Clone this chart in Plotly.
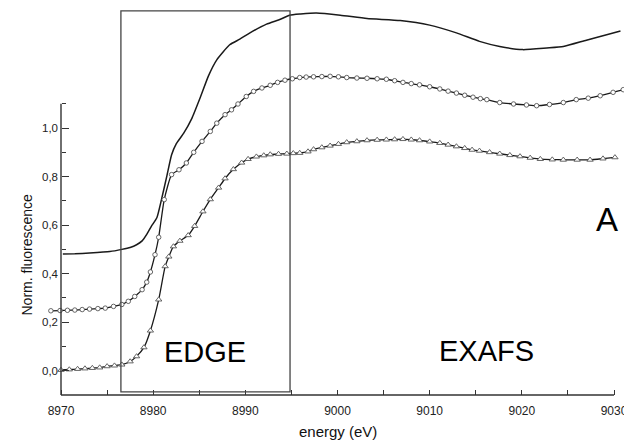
import plotly.graph_objects as go

# ---------------- data ----------------
top_energy = [8970.2, 8971.5, 8973.1, 8975.3, 8976.6, 8977.5, 8978.2, 8978.8, 8979.3, 8979.8,
              8980.4, 8980.9, 8981.5, 8982.0, 8982.5, 8983.3, 8984.2, 8985.1, 8986.0, 8986.9,
              8988.3, 8989.4, 8990.5, 8992.3, 8993.8, 8994.8, 8996.0, 8997.7, 9000.3, 9003.2,
              9006.8, 9010.0, 9012.9, 9015.4, 9017.6, 9020.1, 9022.7, 9024.5, 9027.0, 9029.2,
              9030.7]
top_fluor = [0.481, 0.482, 0.485, 0.491, 0.500, 0.508, 0.519, 0.535, 0.562, 0.595,
             0.630, 0.705, 0.805, 0.890, 0.935, 0.978, 1.040, 1.125, 1.215, 1.281,
             1.343, 1.366, 1.392, 1.428, 1.448, 1.465, 1.470, 1.474, 1.465, 1.451,
             1.443, 1.424, 1.392, 1.357, 1.336, 1.323, 1.330, 1.336, 1.362, 1.384,
             1.400]

mid_energy = [8968.9, 8969.9, 8970.7, 8971.5, 8972.3, 8973.1, 8974.0, 8974.8, 8975.7, 8976.6,
              8977.3, 8978.0, 8978.8, 8979.3, 8979.7, 8980.2, 8980.6, 8981.2, 8982.0, 8982.8,
              8983.6, 8984.4, 8985.3, 8986.2, 8986.9, 8987.8, 8988.5, 8989.2, 8990.1, 8990.9,
              8991.8, 8992.7, 8993.5, 8994.3, 8995.1, 8995.9, 8996.6, 8997.4, 8998.3, 8999.2,
              9000.1, 9001.0, 9002.1, 9003.2, 9004.3, 9005.3, 9006.2, 9007.1, 9008.0, 9008.9,
              9010.0, 9011.1, 9012.0, 9012.9, 9013.8, 9014.7, 9015.5, 9016.2, 9017.6, 9019.1,
              9020.5, 9021.6, 9023.0, 9024.5, 9025.9, 9027.2, 9028.5, 9029.9, 9031.0, 9031.9]
mid_fluor = [0.247, 0.248, 0.249, 0.250, 0.252, 0.254, 0.256, 0.258, 0.265, 0.273,
             0.286, 0.306, 0.334, 0.365, 0.407, 0.478, 0.550, 0.705, 0.808, 0.828,
             0.856, 0.900, 0.945, 0.986, 1.020, 1.055, 1.075, 1.099, 1.130, 1.151,
             1.165, 1.176, 1.188, 1.197, 1.203, 1.208, 1.210, 1.211, 1.212, 1.213,
             1.211, 1.208, 1.206, 1.205, 1.203, 1.201, 1.195, 1.188, 1.183, 1.178,
             1.170, 1.161, 1.152, 1.144, 1.135, 1.127, 1.121, 1.117, 1.105, 1.099,
             1.095, 1.092, 1.097, 1.105, 1.117, 1.123, 1.133, 1.147, 1.158, 1.165]

low_energy = [8970.0, 8970.9, 8971.8, 8972.6, 8973.4, 8974.2, 8975.0, 8975.8, 8976.6, 8977.5,
              8978.2, 8979.0, 8979.7, 8980.6, 8981.3, 8981.7, 8982.2, 8982.9, 8983.8, 8984.5,
              8985.4, 8986.2, 8987.1, 8987.8, 8988.7, 8989.6, 8990.3, 8991.2, 8992.0, 8992.7,
              8993.6, 8994.5, 8995.2, 8995.9, 8996.8, 8997.4, 8998.3, 8999.2, 9000.1, 9001.0,
              9002.1, 9003.2, 9004.3, 9005.3, 9006.2, 9007.1, 9008.0, 9008.9, 9010.0, 9011.1,
              9012.0, 9012.9, 9013.8, 9014.6, 9015.4, 9016.5, 9017.6, 9018.7, 9019.8, 9020.9,
              9022.0, 9023.3, 9024.5, 9026.0, 9027.4, 9028.8, 9030.1]
low_fluor = [0.003, 0.005, 0.007, 0.009, 0.011, 0.013, 0.018, 0.021, 0.025, 0.038,
             0.059, 0.096, 0.165, 0.293, 0.430, 0.470, 0.512, 0.535, 0.558, 0.596,
             0.656, 0.706, 0.754, 0.792, 0.830, 0.857, 0.872, 0.882, 0.887, 0.891,
             0.893, 0.894, 0.896, 0.897, 0.903, 0.912, 0.920, 0.927, 0.934, 0.941,
             0.945, 0.949, 0.951, 0.952, 0.953, 0.954, 0.952, 0.949, 0.944, 0.938,
             0.931, 0.924, 0.917, 0.910, 0.906, 0.900, 0.894, 0.888, 0.883, 0.877,
             0.872, 0.870, 0.869, 0.869, 0.869, 0.874, 0.879]

x_tickvals = [8970, 8980, 8990, 9000, 9010, 9020, 9030]
x_ticktext = ["8970", "8980", "8990", "9000", "9010", "9020", "9030"]
x_minorvals = [8975, 8985, 8995, 9005, 9015, 9025]
y_tickvals = [0.0, 0.2, 0.4, 0.6, 0.8, 1.0]
y_ticktext = ["0,0", "0,2", "0,4", "0,6", "0,8", "1,0"]
y_minorvals = [0.1, 0.3, 0.5, 0.7, 0.9, 1.1]
y_axis_span = [-0.1, 1.1]
x_axis_span = [8970, 9030]
edge_region = [8976.5, 8994.85]
edge_box_y = [-0.087, 1.483]

# ---------------- layout geometry ----------------
# The page body has an 8px margin, so the figure is laid out in page coords minus 8.
OFF = 8
W, H = 624, 432
ML, MR, MT, MB = 40, 0, 0, 45
X_RANGE = [8968.59, 9031.95]
Y_RANGE = [-0.1, 1.4945]
FONT = "Liberation Sans, Arial, sans-serif"
LINE = "#1a1a1a"
AX = "#333333"

fig = go.Figure()
fig.add_trace(go.Scatter(x=top_energy, y=top_fluor, mode="lines",
                         line=dict(color=LINE, width=1.5, shape="spline", smoothing=0.5),
                         showlegend=False))
fig.add_trace(go.Scatter(x=mid_energy, y=mid_fluor, mode="lines+markers",
                         line=dict(color=LINE, width=1.3, shape="spline", smoothing=0.5),
                         marker=dict(symbol="circle", size=4.5, color="white",
                                     line=dict(color="#555555", width=0.9)),
                         showlegend=False))
fig.add_trace(go.Scatter(x=low_energy, y=low_fluor, mode="lines+markers",
                         line=dict(color=LINE, width=1.3, shape="spline", smoothing=0.5),
                         marker=dict(symbol="triangle-up", size=5.5, color="white",
                                     line=dict(color="#555555", width=0.9)),
                         showlegend=False))

# axis lines (only over the labelled span, as in the reference)
fig.add_shape(type="line", xref="x", yref="paper", x0=x_axis_span[0], x1=x_axis_span[1],
              y0=0, y1=0, line=dict(color=AX, width=1.4))
fig.add_shape(type="line", xref="x", yref="y", x0=x_axis_span[0], x1=x_axis_span[0],
              y0=y_axis_span[0], y1=y_axis_span[1], line=dict(color=AX, width=1.4))
# EDGE box
fig.add_shape(type="rect", xref="x", yref="y", x0=edge_region[0], x1=edge_region[1],
              y0=edge_box_y[0], y1=edge_box_y[1], line=dict(color="#444444", width=1.3))

yaxis_pos = (x_axis_span[0] - X_RANGE[0]) / (X_RANGE[1] - X_RANGE[0])

fig.update_layout(
    width=W, height=H, margin=dict(l=ML, r=MR, t=MT, b=MB, pad=0),
    paper_bgcolor="white", plot_bgcolor="white",
    font=dict(family=FONT, color="#222222"),
    xaxis=dict(range=X_RANGE, showgrid=False, zeroline=False, showline=False,
               tickmode="array", tickvals=x_tickvals, ticktext=x_ticktext,
               ticks="inside", ticklen=5, tickwidth=1.2, tickcolor=AX,
               tickfont=dict(size=12, family=FONT, color="#222222"),
               ticklabelstandoff=7,
               minor=dict(tickmode="array", tickvals=x_minorvals, ticks="inside",
                          ticklen=5, tickwidth=1.2, tickcolor=AX, showgrid=False)),
    yaxis=dict(range=Y_RANGE, showgrid=False, zeroline=False, showline=False,
               anchor="free", position=yaxis_pos,
               tickmode="array", tickvals=y_tickvals, ticktext=y_ticktext,
               ticks="inside", ticklen=7, tickwidth=1.2, tickcolor=AX,
               tickfont=dict(size=11.5, family=FONT, color="#222222"),
               ticklabelstandoff=3,
               minor=dict(tickmode="array", tickvals=y_minorvals, ticks="inside",
                          ticklen=4, tickwidth=1.2, tickcolor=AX, showgrid=False)),
)

plot_w = W - ML - MR
plot_h = H - MT - MB
def px_to_paper_x(px):
    return (px - OFF - ML) / plot_w
def px_to_paper_y(py):
    return (H - MB - (py - OFF)) / plot_h

annotations = [
    dict(text="Norm. fluorescence", x=px_to_paper_x(26.5), y=px_to_paper_y(255), xref="paper",
         yref="paper", textangle=-90, showarrow=False, font=dict(size=14, family=FONT, color="#111111"),
         xanchor="center", yanchor="middle"),
    dict(text="energy (eV)", x=px_to_paper_x(337.5), y=px_to_paper_y(431), xref="paper",
         yref="paper", showarrow=False, font=dict(size=15, family=FONT, color="#111111"),
         xanchor="center", yanchor="middle"),
    dict(text="EDGE", x=8985.6, y=0.076, xref="x", yref="y", showarrow=False,
         font=dict(size=29, family=FONT, color="#000000"), xanchor="center", yanchor="middle"),
    dict(text="EXAFS", x=9016.2, y=0.082, xref="x", yref="y", showarrow=False,
         font=dict(size=29, family=FONT, color="#000000"), xanchor="center", yanchor="middle"),
    dict(text="A", x=9029.2, y=0.624, xref="x", yref="y", showarrow=False,
         font=dict(size=33, family=FONT, color="#000000"), xanchor="center", yanchor="middle"),
]
fig.update_layout(annotations=annotations)

fig.write_html("out.html")
